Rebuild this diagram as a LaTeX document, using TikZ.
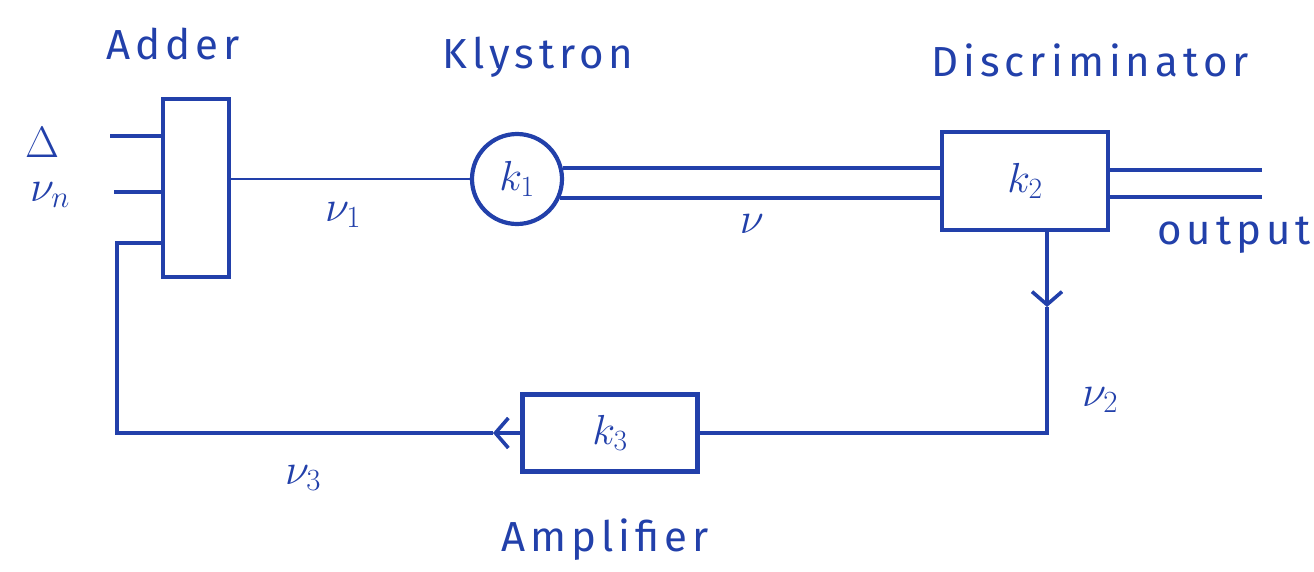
\RequirePackage{fix-cm}
\documentclass[tikz,border=0pt]{standalone}
\usepackage{fontspec}
\setmainfont{Fira Sans}
\newfontfamily\handfont[LetterSpace=12]{Fira Sans}
\usepackage{tikz}
\usetikzlibrary{arrows.meta,positioning,calc}
\definecolor{InkBlue}{RGB}{34,64,170}

\begin{document}
\begin{tikzpicture}[x=1pt,y=-1pt,
  block/.style 2 args={draw=InkBlue,line width=4.2pt,minimum width=#1,minimum height=#2,inner sep=0pt,text=InkBlue,font=\fontsize{42}{46}\selectfont},
  klys/.style={circle,draw=InkBlue,line width=4.2pt,minimum size=90pt,inner sep=0pt,text=InkBlue,font=\fontsize{42}{46}\selectfont},
  wire/.style={draw=InkBlue,line width=4pt},
  thinwire/.style={draw=InkBlue,line width=2.8pt},
  flowtip/.style={-{Straight Barb[length=13pt,width=30pt,line width=3.6pt]}},
  title/.style={text=InkBlue,inner sep=0pt,font=\handfont\fontsize{42}{46}\selectfont},
  sig/.style={text=InkBlue,inner sep=0pt,font=\fontsize{44}{48}\selectfont}]
  \useasboundingbox (0,0) rectangle (1314,571);
  % blocks
  \node[block={66pt}{178pt}] (adder) at (196,188) {};
  \node[klys] (kly) at (517,179) {$k_1$};
  \node[block={166pt}{98pt}] (disc) at (1025,181) {$k_2$};
  \node[block={175pt}{77pt}] (amp) at (610,433) {$k_3$};
  % titles
  \node[title] (addlbl) at (173,44) {Adder};
  \node[title] (klylbl) at (538,57) {Klystron};
  \node[title] (disclbl) at (1090,60) {Discriminator};
  \node[title] (amplbl) at (605,540) {Amplifier};
  \node[title] (outlbl) at (1234,235) {output};
  % signals
  \node[sig] (delta) at (42,142) {$\Delta$};
  \node[sig] (nun) at (50,195) {$\nu_n$};
  \node[sig] (nuone) at (343,215) {$\nu_1$};
  \node[sig] (nu) at (752,224) {$\nu$};
  \node[sig] (nutwo) at (1100,400) {$\nu_2$};
  \node[sig] (nuthree) at (303,478) {$\nu_3$};
  % free ends and corners
  \coordinate (inD) at (110,136);
  \coordinate (inN) at (114,192);
  \coordinate (fbL) at (117,243);
  \coordinate (fbB) at (117,433);
  \coordinate (fbR) at (1047,433);
  \coordinate (tipD) at (1047,307);
  \coordinate (tipL) at (493,433);
  \coordinate (outA) at (1262,170);
  \coordinate (outB) at (1262,197);
  % connectors
  \draw[wire] (inD) -- (inD -| adder.west);
  \draw[wire] (inN) -- (inN -| adder.west);
  \draw[thinwire] (adder.east |- kly.west) -- (kly.west);
  \draw[wire] (kly.14) -- (kly.14 -| disc.west);
  \draw[wire] (kly.-24) -- (kly.-24 -| disc.west);
  \draw[wire] (outA -| disc.east) -- (outA);
  \draw[wire] (outB -| disc.east) -- (outB);
  \draw[wire,flowtip] (disc.south -| tipD) -- (tipD);
  \draw[wire] (tipD) -- (fbR) -- (amp.east);
  \draw[wire,flowtip] (amp.west) -- (tipL);
  \draw[wire] (tipL) -- (fbB) -- (fbL) -- (fbL -| adder.west);
\end{tikzpicture}
\end{document}
